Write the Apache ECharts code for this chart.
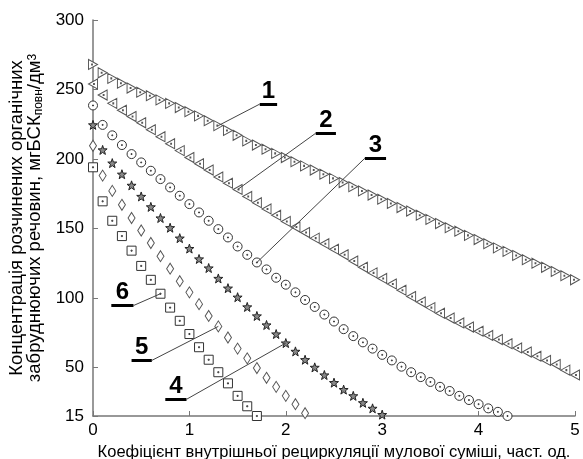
<!DOCTYPE html>
<html>
<head>
<meta charset="utf-8">
<script src="https://cdn.jsdelivr.net/npm/echarts@6/dist/echarts.min.js"></script>
<style>
  html, body { margin: 0; padding: 0; background: #fff; }
  #chart { width: 583px; height: 459px; }
</style>
</head>
<body>
<div id="chart"></div>
<script>
// значення по осі X (крок 0.1)
const xValues = [0, 0.1, 0.2, 0.3, 0.4, 0.5, 0.6, 0.7, 0.8, 0.9,
  1.0, 1.1, 1.2, 1.3, 1.4, 1.5, 1.6, 1.7, 1.8, 1.9,
  2.0, 2.1, 2.2, 2.3, 2.4, 2.5, 2.6, 2.7, 2.8, 2.9,
  3.0, 3.1, 3.2, 3.3, 3.4, 3.5, 3.6, 3.7, 3.8, 3.9,
  4.0, 4.1, 4.2, 4.3, 4.4, 4.5, 4.6, 4.7, 4.8, 4.9, 5.0]

const s1 = [268, 262, 258, 254.5, 251, 248, 245.5, 242.5, 240, 237,
  234, 231, 227.5, 224, 220.5, 217, 213, 210, 207, 204,
  201, 198, 195, 192, 189, 186, 183, 180, 177, 174,
  171, 168, 165, 162.5, 159.5, 156.5, 153.5, 150.5, 148, 145,
  142, 139, 136, 133.5, 130.5, 127.5, 125, 122, 119, 116, 113]
const s2 = [254, 246, 240, 235, 230.5, 226, 221, 216, 211, 206,
  201, 196.5, 192, 187, 182.5, 178, 173, 168.5, 164, 159.5,
  155, 151, 147, 143, 139, 135, 131, 126.5, 122, 118,
  114, 110, 105.5, 101, 97, 93, 89, 85.5, 82, 79,
  76, 73, 70, 67, 64, 61, 58, 55, 52, 48, 44.5]
const s3 = [238.5, 224.5, 217, 210, 203.5, 197.5, 191.5, 185.5, 179.5, 173.5,
  167.5, 161.5, 155.5, 149.5, 143.5, 137, 131, 125.5, 120.5, 114.5,
  109.5, 104, 98.5, 93.5, 88, 83, 77.5, 72.5, 68, 63.5,
  59, 55, 50.5, 46.5, 43, 39.5, 36, 33, 29.5, 26.5,
  23.5, 20.5, 18, 15]
const s4 = [224.5, 206.5, 197, 189, 181, 173, 165.5, 157.5, 150.5, 143,
  135.5, 128, 121.5, 114, 107, 100.5, 93.5, 87, 80.5, 74,
  67.5, 61.5, 55.5, 50, 44.5, 39, 34, 29.5, 24.5, 20.5, 16]
const s5 = [209.5, 188, 177, 167, 157.5, 148.5, 139.5, 130, 121, 112,
  104, 95.5, 87, 79.5, 71.5, 63.5, 56.5, 49.5, 42.5, 36,
  29.5, 23.5, 17]
const s6 = [194, 169.5, 155.5, 144.5, 134, 123, 113, 103, 93, 83.5,
  74, 64.5, 55.5, 46.5, 38.5, 29.5, 22, 15]

const yTicks = [15, 50, 100, 150, 200, 250, 300]

// підписи кривих 1..6: риска (x0..x1, y) та точка, на яку вказує лінія
const labelText = ['1', '2', '3', '4', '5', '6']
const labelX0 = [1.73, 2.31, 2.82, 0.75, 0.40, 0.19]
const labelX1 = [1.91, 2.52, 3.04, 0.97, 0.61, 0.42]
const labelY = [239.5, 218.5, 200.5, 27, 55, 94.5]
const labelFromEnd = [false, false, false, true, true, true]
const labelTargetIdx = [13, 15, 17, 20, 13, 7]

const allSeries = [s1, s2, s3, s4, s5, s6]

const symTriR = 'path://M0,0L10,5L0,10Z M3.4,4.5L4.4,4.5L4.4,5.5L3.4,5.5Z'
const symTriL = 'path://M10,0L0,5L10,10Z M5.6,4.5L6.6,4.5L6.6,5.5L5.6,5.5Z'
const symCirc = 'path://M0,5A5,5 0 1,0 10,5A5,5 0 1,0 0,5Z M4.5,4.5L5.5,4.5L5.5,5.5L4.5,5.5Z'
const symStar = 'path://M5,0L6.2,3.6L10,3.7L7,6L8.1,9.6L5,7.5L1.9,9.6L3,6L0,3.7L3.8,3.6Z'
const symDiam = 'path://M5,0L10,5L5,10L0,5Z'
const symSq = 'path://M0,0L10,0L10,10L0,10Z M4.4,4.4L5.6,4.4L5.6,5.6L4.4,5.6Z'

const symbols = [symTriR, symTriL, symCirc, symStar, symDiam, symSq]
const sizes = [[9, 10], [9, 10], [9, 9], [9, 9], [7, 11], [9, 9]]
const fills = ['#fff', '#fff', '#fff', '#888', '#fff', '#fff']
const strokes = ['#555', '#555', '#333', '#222', '#555', '#333']

const toPairs = (vals) => vals.map((v, i) => [xValues[i], v])

const markData = []
labelText.forEach((t, i) => {
  // риска під цифрою
  markData.push([
    { coord: [labelX0[i], labelY[i]], label: { show: true, formatter: t } },
    { coord: [labelX1[i], labelY[i]] }
  ])
  // лінія-вказівник
  const fromX = labelFromEnd[i] ? labelX1[i] : labelX0[i]
  const k = labelTargetIdx[i]
  markData.push([
    { coord: [fromX, labelY[i]], lineStyle: { width: 1, color: '#444' }, label: { show: false } },
    { coord: [xValues[k], allSeries[i][k]] }
  ])
})

const series = allSeries.map((vals, i) => ({
  type: 'scatter',
  data: toPairs(vals),
  symbol: symbols[i],
  symbolSize: sizes[i],
  clip: false,
  itemStyle: { color: fills[i], borderColor: strokes[i], borderWidth: 1, opacity: 1 },
  emphasis: { disabled: true },
  z: 3
}))

series.push({
  type: 'scatter',
  data: [],
  z: 2,
  markLine: {
    silent: true,
    animation: false,
    symbol: ['none', 'none'],
    lineStyle: { type: 'solid', width: 3, color: '#000' },
    label: {
      position: 'insideMiddleTop',
      distance: 1,
      fontFamily: 'Liberation Sans',
      fontSize: 24,
      fontWeight: 'bold',
      color: '#000'
    },
    data: markData
  }
})

const chart = echarts.init(document.getElementById('chart'))
chart.setOption({
  animation: false,
  backgroundColor: '#fff',
  grid: { left: 93, right: 8, top: 20, bottom: 43, containLabel: false, outerBoundsMode: 'none' },
  xAxis: {
    type: 'value',
    min: 0,
    max: 5,
    interval: 1,
    name: 'Коефіцієнт внутрішньої рециркуляції мулової суміші, част. од.',
    nameLocation: 'middle',
    nameGap: 24,
    nameTextStyle: { fontFamily: 'Liberation Sans', fontSize: 16.5, color: '#000' },
    axisLine: { lineStyle: { color: '#777', width: 1.5 } },
    axisTick: { inside: true, length: 5, lineStyle: { color: '#777' } },
    axisLabel: { fontFamily: 'Liberation Sans', fontSize: 17, color: '#000', margin: 6 },
    splitLine: { show: false }
  },
  yAxis: {
    type: 'value',
    min: 15,
    max: 300,
    name: '{a|Концентрація розчинених органічних}\n{a|забруднюючих речовин, мгБСК}{sub|повн}{a|/дм}{sup|3}',
    nameLocation: 'middle',
    nameGap: 46,
    nameRotate: 90,
    nameTextStyle: {
      fontFamily: 'Liberation Sans',
      color: '#000',
      rich: {
        a: { fontFamily: 'Liberation Sans', fontSize: 18.5, color: '#000', lineHeight: 18 },
        sub: { fontFamily: 'Liberation Sans', fontSize: 12, color: '#000', lineHeight: 18, verticalAlign: 'bottom', padding: [7, 0, 0, 0] },
        sup: { fontFamily: 'Liberation Sans', fontSize: 12, color: '#000', lineHeight: 18, verticalAlign: 'top' }
      }
    },
    axisLine: { show: true, lineStyle: { color: '#777', width: 1.5 } },
    axisTick: { show: true, inside: true, length: 5, customValues: yTicks, lineStyle: { color: '#777' } },
    axisLabel: { fontFamily: 'Liberation Sans', fontSize: 17, color: '#000', margin: 9, customValues: yTicks },
    splitLine: { show: false }
  },
  series: series
})
</script>
</body>
</html>
